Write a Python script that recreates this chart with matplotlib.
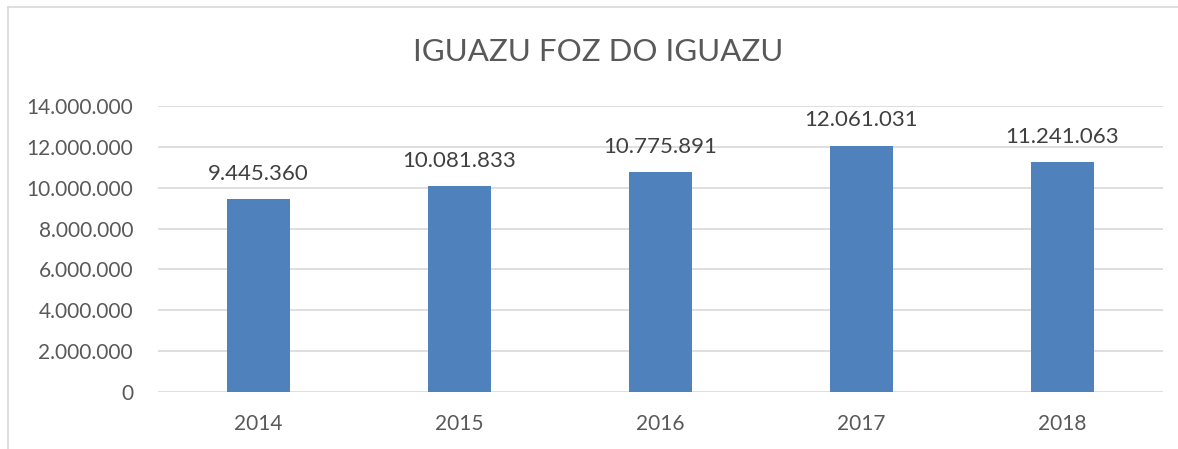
import matplotlib.pyplot as plt
from matplotlib.lines import Line2D

years = ["2014", "2015", "2016", "2017", "2018"]
visitors = [9445360, 10081833, 10775891, 12061031, 11241063]
yticks = [0, 2000000, 4000000, 6000000, 8000000, 10000000, 12000000, 14000000]

plt.rcParams['font.family'] = ['Lato', 'DejaVu Sans']
txt = "#595959"


def fmt(v):
    return f"{v:,}".replace(",", ".")


fig = plt.figure(figsize=(11.78, 4.49), dpi=100)
ax = fig.add_axes([158 / 1178, 1 - 392 / 449, 1005 / 1178, 286 / 449])

x = range(len(years))
bars = ax.bar(x, visitors, width=0.31, color="#4F81BD", zorder=3)
for b, v in zip(bars, visitors):
    ax.annotate(fmt(v), (b.get_x() + b.get_width() / 2, v), xytext=(0, 11),
                textcoords="offset points", ha="center", va="bottom",
                fontsize=16, color="#404040")

ax.set_xlim(-0.5, 4.5)
ax.set_ylim(0, 14000000)
ax.set_yticks(yticks)
ax.set_yticklabels([fmt(t) for t in yticks])
ax.set_xticks(list(x))
ax.set_xticklabels(years)
ax.tick_params(axis="both", length=0, labelsize=15, labelcolor=txt)
ax.tick_params(axis="y", pad=18)
ax.tick_params(axis="x", pad=16)
ax.grid(axis="y", color="#D9D9D9", linewidth=1.2, zorder=0)
for s in ax.spines.values():
    s.set_visible(False)

fig.text(598 / 1178, 1 - 52 / 449, "IGUAZU FOZ DO IGUAZU", ha="center", va="center",
         fontsize=22.5, color=txt)

# chart frame (cropped on right and bottom)
fig.add_artist(Line2D([8 / 1178, 8 / 1178], [0, 1 - 7 / 449], color="#D9D9D9", lw=1.2))
fig.add_artist(Line2D([8 / 1178, 1], [1 - 7 / 449, 1 - 7 / 449], color="#D9D9D9", lw=1.2))

fig.savefig("out.png", dpi=100)
